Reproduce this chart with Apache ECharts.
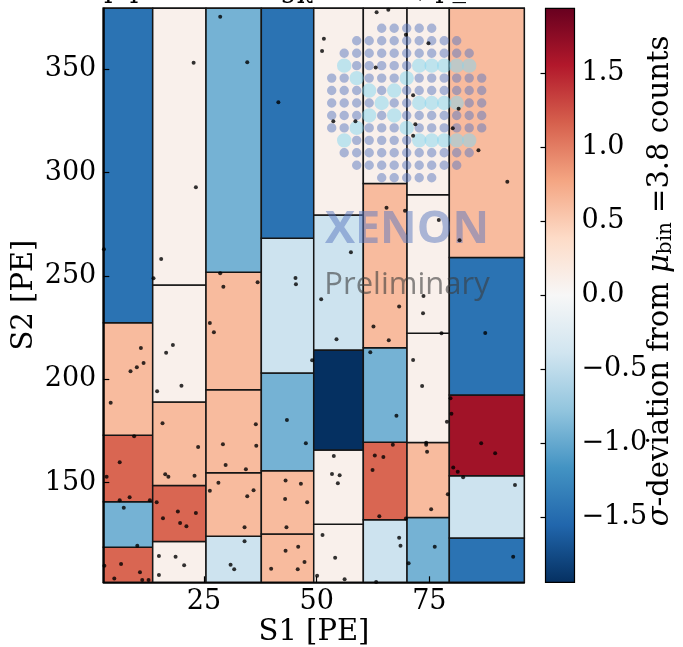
<!DOCTYPE html>
<html><head><meta charset="utf-8">
<script src="https://cdn.jsdelivr.net/npm/echarts@6/dist/echarts.min.js"></script>
<style>html,body{margin:0;padding:0;background:#fff}#c{width:683px;height:647px}</style>
</head><body><div id="c"></div>
<script>
// S1 bin edges (columns)
const s1Edges = [2.66, 13.62, 25.45, 37.72, 49.35, 60.35, 70.05, 79.43, 96.07];
// S2 bin edges per S1 column (bottom to top)
const s2Edges = [
  [101.8, 118.7, 140.8, 172.9, 227.4, 379.5],
  [101.8, 121.5, 148.6, 189.0, 245.6, 379.5],
  [101.8, 124.1, 154.8, 195.0, 251.8, 379.5],
  [101.8, 125.2, 155.8, 203.1, 268.2, 379.5],
  [101.8, 129.9, 165.8, 214.2, 279.5, 379.5],
  [101.8, 132.1, 169.5, 215.3, 294.7, 379.5],
  [101.8, 133.1, 169.4, 222.3, 289.3, 379.5],
  [101.8, 123.2, 153.4, 192.4, 258.9, 379.5]
];
// sigma deviation of each bin (bottom to top)
const sigma = [
  [1.13, -0.92, 1.13, 0.62, -1.44],
  [0.10, 1.13, 0.62, 0.10, 0.10],
  [-0.41, 0.62, 0.62, 0.62, -0.92],
  [0.62, 0.62, -0.92, -0.41, -1.44],
  [0.10, 0.10, -1.95, -0.41, 0.10],
  [-0.41, 1.13, -0.92, 0.62, 0.10],
  [-0.92, 0.62, 0.10, 0.10, 0.10],
  [-1.44, -0.41, 1.64, -1.44, 0.62]
];
// events
const eventS1 = [28.6,22.7,34.6,41.5,23.2,15.5,13.8,2.8,28.6,29.3,36.9,45.3,45.4,63.3,65.9,51.6,51.2,69.8,74.8,63.1,
  71.4,81.5,53.7,58.6,71.9,80.2,71.4,85.9,92.3,65.5,69.6,77.1,81.7,57.6,51.0,73.7,11.0,18.1,16.6,11.6,
  10.1,8.7,26.3,27.2,14.6,20.0,4.3,49.0,43.4,47.6,15.8,23.7,16.4,17.1,22.9,36.5,29.2,36.6,29.8,34.3,
  9.5,6.3,3.4,6.3,8.5,13.0,7.2,10.2,6.6,2.9,5.1,10.8,11.3,12.7,14.5,19.2,23.2,15.9,19.7,21.1,
  15.0,18.7,20.6,15.0,28.2,26.3,36.0,34.6,34.0,34.0,30.9,31.7,43.1,46.5,43.0,47.9,43.3,43.1,45.9,47.3,
  39.9,45.8,50.1,54.4,73.6,68.3,62.6,66.0,77.7,87.4,61.9,67.7,71.4,73.4,78.9,79.7,79.9,86.5,89.6,80.3,
  81.3,82.5,94.0,93.6,53.8,53.4,55.1,54.7,51.3,54.1,56.2,66.9,62.9,64.8,62.4,63.9,69.8,68.3,68.6,63.2,
  70.4,76.2,74.3,74.3,74.5,79.1,75.4];
const eventS2 = [375.4,353.2,353.4,334.0,292.9,258.2,248.9,262.9,251.3,244.8,247.0,249.0,246.0,377.6,378.8,364.8,358.9,366.7,362.6,350.8,
  337.4,330.9,324.8,324.8,323.4,321.5,317.9,310.8,295.6,283.0,281.6,277.1,267.3,261.5,238.7,240.3,215.2,216.6,212.9,207.9,
  205.8,203.9,227.3,222.8,194.2,196.9,188.7,209.2,180.3,169.1,178.7,167.3,154.1,152.9,153.4,178.3,168.6,167.9,158.6,156.5,
  172.4,159.9,152.9,141.5,142.9,141.5,137.9,119.5,110.7,109.8,103.6,106.7,102.9,102.9,140.5,136.0,135.3,132.8,130.5,128.9,
  114.5,114.2,110.0,105.3,150.0,146.1,146.3,143.4,128.4,121.6,110.3,108.1,151.0,149.5,142.1,140.5,128.4,117.1,119.0,111.6,
  108.4,108.1,105.0,219.4,232.0,235.2,225.5,218.9,222.3,222.4,213.1,182.4,209.4,196.8,179.5,190.8,183.4,169.1,164.2,157.4,
  155.3,152.6,148.9,114.2,162.9,154.2,153.6,149.7,124.7,113.7,103.3,168.4,163.1,162.4,156.1,133.7,132.7,123.4,119.5,102.0,
  111.0,119.0,169.3,168.4,165.0,144.4,137.1];
const xTicks = [25, 50, 75];
const yTicks = [150, 200, 250, 300, 350];
const cbTicks = [-1.5, -1.0, -0.5, 0.0, 0.5, 1.0, 1.5];
const sigmaMin = -1.94, sigmaMax = 1.94;

const rdbu = ['#053061','#2166ac','#4393c3','#92c5de','#d1e5f0','#f7f7f7','#fddbc7','#f4a582','#d6604d','#b2182b','#67001f'];

const cells = [];
for (let c = 0; c < sigma.length; c++)
  for (let r = 0; r < sigma[c].length; r++)
    cells.push([s1Edges[c], s1Edges[c+1], s2Edges[c][r], s2Edges[c][r+1], sigma[c][r]]);
const events = eventS1.map((x, i) => [x, eventS2[i]]);

const SERIF = 'DejaVu Serif';
const chart = echarts.init(document.getElementById('c'), null, {renderer: 'canvas'});

// Logo decoration (watermark)
const rowSpan = [[4,8],[2,10],[1,11],[1,11],[0,12],[0,12],[0,12],[0,12],[0,12],[1,11],[1,11],[2,10],[4,8]];
const bigSet = new Set(['1,3','2,4','3,5','4,6','5,7','6,8','7,9','7,3','6,4','5,5','3,7','2,8','1,9',
  '8,3','9,3','10,3','11,3','8,6','9,6','10,6','7,6','8,9','9,9','10,9','11,9']);
const logo = [];
rowSpan.forEach((sp, r) => {
  for (let c = sp[0]; c <= sp[1]; c++) {
    const big = bigSet.has(c + ',' + r);
    logo.push({type: 'circle', z: 50, silent: true,
      shape: {cx: 331.7 + c * 12.5, cy: 28.3 + r * 12.45, r: big ? 7.2 : 4.7},
      style: {fill: big ? 'rgba(131,214,239,0.5)' : 'rgba(89,120,191,0.5)'}});
  }
});

const option = {
  animation: false,
  backgroundColor: '#fff',
  grid: [
    {left: 103.3, top: 8.3, width: 421, height: 574, show: true, borderColor: '#000', borderWidth: 1.5, backgroundColor: 'transparent'},
    {left: 545.5, top: 8.3, width: 29, height: 574}
  ],
  visualMap: {type: 'continuous', show: false, seriesIndex: 0, dimension: 4, min: sigmaMin, max: sigmaMax, inRange: {color: rdbu}},
  xAxis: [
    {type: 'value', gridIndex: 0, min: 2.66, max: 96.07, z: 5,
     axisLine: {show: true, lineStyle: {color: '#000', width: 1.5}},
     axisTick: {show: true, inside: true, length: 6, customValues: xTicks, lineStyle: {color: '#000', width: 1.2}},
     axisLabel: {customValues: xTicks, fontFamily: SERIF, fontSize: 27, color: '#000', margin: 6},
     splitLine: {show: false}},
    {type: 'value', gridIndex: 1, min: 0, max: 1, show: false}
  ],
  yAxis: [
    {type: 'value', gridIndex: 0, min: 101.8, max: 379.5, z: 5,
     axisLine: {show: true, lineStyle: {color: '#000', width: 1.5}},
     axisTick: {show: true, inside: true, length: 6, customValues: yTicks, lineStyle: {color: '#000', width: 1.2}},
     axisLabel: {customValues: yTicks, fontFamily: SERIF, fontSize: 27, color: '#000', margin: 7},
     splitLine: {show: false}},
    {type: 'value', gridIndex: 1, position: 'right', min: sigmaMin, max: sigmaMax, z: 5,
     axisLine: {show: false},
     axisTick: {show: true, inside: true, length: 5, customValues: cbTicks, lineStyle: {color: '#000', width: 1.2}},
     axisLabel: {customValues: cbTicks, fontFamily: SERIF, fontSize: 27, color: '#000', margin: 7,
       formatter: v => (v < 0 ? '\u2212' : '') + Math.abs(v).toFixed(1)},
     splitLine: {show: false}}
  ],
  series: [
    {type: 'custom', name: 'bins', xAxisIndex: 0, yAxisIndex: 0, z: 1,
     encode: {x: [0, 1], y: [2, 3]},
     data: cells,
     renderItem: (params, api) => {
       const p0 = api.coord([api.value(0), api.value(2)]);
       const p1 = api.coord([api.value(1), api.value(3)]);
       return {type: 'rect',
         shape: {x: p0[0], y: p1[1], width: p1[0] - p0[0], height: p0[1] - p1[1]},
         style: {fill: api.visual('color'), stroke: '#151515', lineWidth: 1.5}};
     }},
    {type: 'scatter', name: 'events', xAxisIndex: 0, yAxisIndex: 0, z: 100,
     data: events, symbol: 'circle', symbolSize: 4, itemStyle: {color: '#000'}, silent: true},
    {type: 'custom', name: 'colorbar', xAxisIndex: 1, yAxisIndex: 1, z: 1,
     data: [[0, sigmaMin, 1, sigmaMax]],
     renderItem: (params, api) => {
       const pTop = api.coord([0, sigmaMax]);
       const pBot = api.coord([1, sigmaMin]);
       const stops = rdbu.slice().reverse().map((c, i) => ({offset: i / (rdbu.length - 1), color: c}));
       return {type: 'rect',
         shape: {x: pTop[0], y: pTop[1], width: pBot[0] - pTop[0], height: pBot[1] - pTop[1]},
         style: {fill: new echarts.graphic.LinearGradient(0, 0, 0, 1, stops), stroke: '#000', lineWidth: 1.2}};
     }}
  ],
  graphic: [
    ...logo,
    {type: 'text', z: 51, silent: true, x: 407, y: 230,
     style: {text: 'XENON', fontFamily: 'Open Sans', fontWeight: 'bold', fontSize: 45, fill: 'rgba(89,120,191,0.5)', align: 'center', verticalAlign: 'middle'}},
    {type: 'text', z: 51, silent: true, x: 407, y: 285,
     style: {text: 'Preliminary', fontFamily: 'Open Sans', fontSize: 31, fill: 'rgba(60,60,60,0.6)', align: 'center', verticalAlign: 'middle'}},
    {type: 'text', x: 314, y: 632,
     style: {text: 'S1 [PE]', fontFamily: SERIF, fontSize: 29, fill: '#000', align: 'center', verticalAlign: 'middle'}},
    {type: 'text', x: 24.5, y: 295, rotation: Math.PI / 2,
     style: {text: 'S2 [PE]', fontFamily: SERIF, fontSize: 29, fill: '#000', align: 'center', verticalAlign: 'middle'}},
    {type: 'text', x: 660, y: 281, rotation: Math.PI / 2,
     style: {text: '{i|\u03c3}-deviation from {i|\u03bc}{s|bin} =3.8 counts', fontFamily: SERIF, fontSize: 29, fill: '#000',
       align: 'center', verticalAlign: 'middle',
       rich: {i: {fontFamily: SERIF, fontStyle: 'italic', fontSize: 29, fill: '#000'},
              s: {fontFamily: SERIF, fontSize: 20, fill: '#000', padding: [12, 0, 0, 0]}}}},
    {type: 'text', x: 104, y: -10,
     style: {text: 'p p', fontFamily: SERIF, fontSize: 27, fill: '#000', align: 'left', verticalAlign: 'middle'}},
    {type: 'text', x: 280, y: -10,
     style: {text: 'g\u03c7', fontFamily: SERIF, fontSize: 27, fill: '#000', align: 'left', verticalAlign: 'middle'}},
    {type: 'text', x: 418, y: -10,
     style: {text: ', p_', fontFamily: SERIF, fontSize: 27, fill: '#000', align: 'left', verticalAlign: 'middle'}}
  ]
};
chart.setOption(option);
</script>
</body></html>
